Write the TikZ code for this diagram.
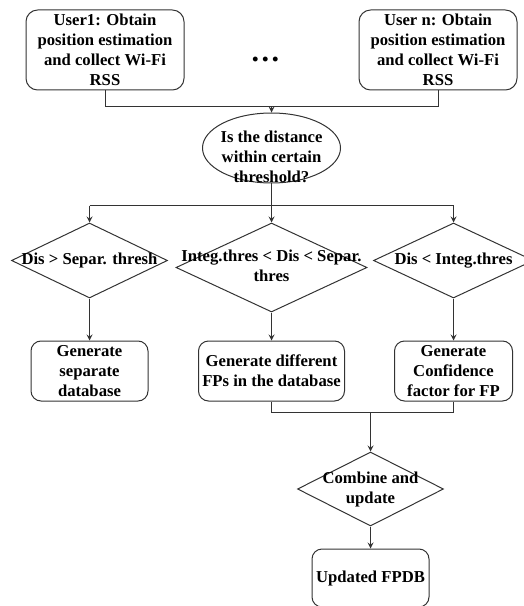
\documentclass[tikz,border=0pt]{standalone}
\usepackage{fontspec}
\setmainfont{Liberation Serif}
\usetikzlibrary{shapes.geometric,positioning,calc}
\newcommand{\zbox}[2][-2.5pt]{\makebox[0pt]{\smash{\raisebox{#1}{\begin{tabular}{@{}c@{}}#2\end{tabular}}}}}

\begin{document}
\begin{tikzpicture}[>=stealth, font=\bfseries, line width=0.6pt,
  box/.style={draw=black!80, rounded corners=6pt, align=center, inner xsep=1pt, inner ysep=0pt, minimum height=36pt},
  user/.style={box, rounded corners=7pt, minimum width=94.8pt, minimum height=48pt},
  test/.style={ellipse, draw=black!80, inner sep=0pt, minimum width=82.8pt, minimum height=42pt},
  choice/.style={diamond, draw=black!80, inner sep=0pt, minimum height=45pt}]
\useasboundingbox (0,0) rectangle (313.8pt,-363.6pt);

\node[user] (u1) at (63pt,-30pt) {User1: Obtain\\position estimation\\and collect Wi-Fi\\RSS};
\node[user, right=104.4pt of u1] (un) {User n: Obtain\\position estimation\\and collect Wi-Fi\\RSS};
\node[inner sep=0pt, right=40pt of u1, yshift=-5.4pt, font=\bfseries\fontsize{18}{18}\selectfont] (dots) {.\kern1.5pt.\kern1.5pt.};

\coordinate[below=9.6pt of u1] (j1);
\coordinate[below=9.6pt of un] (jn);
\coordinate (jm) at ($(j1)!.5!(jn)$);
\node[test, below=3.6pt of jm] (q) {\zbox[-9pt]{Is the distance\\within certain\\threshold?}};
\draw[black!80] (u1) -- (j1) -- (jn) -- (un);
\draw[black!80, ->] (jm) -- (q);

  \coordinate[below=13.2pt of q] (s2);
  \coordinate[left=109.2pt of s2] (s1);
  \coordinate[right=109.2pt of s2] (s3);
  \node[choice, minimum width=93.6pt, below=10.2pt of s1] (d1) {\zbox{Dis > Separ. thresh}};
  \node[choice, minimum width=114.6pt, minimum height=53.4pt, below=10.2pt of s2] (d2) {\zbox{Integ.thres < Dis < Separ.\\thres}};
  \node[choice, minimum width=96pt, below=10.2pt of s3] (d3) {\zbox{Dis < Integ.thres}};
  \draw[black!80] (q) -- (s2);
  \draw[black!80] (s1) -- (s3);
  \draw[black!80, ->] (s1) -- (d1);
  \draw[black!80, ->] (s2) -- (d2);
  \draw[black!80, ->] (s3) -- (d3);

  \node[box, minimum width=70.2pt, below=25.2pt of d1] (b1) {Generate\\separate\\database};
  \node[box, minimum width=87.6pt, below=16.8pt of d2] (b2) {Generate different\\FPs in the database};
  \node[box, minimum width=70.8pt, below=25.2pt of d3] (b3) {Generate\\Confidence\\factor for FP};
  \draw[black!80, ->] (d1) -- (b1);
  \draw[black!80, ->] (d2) -- (b2);
  \draw[black!80, ->] (d3) -- (b3);

    \coordinate[below=6.6pt of b2] (k2);
    \coordinate[below=6.6pt of b3] (k3);
    \coordinate[right=59.4pt of k2] (k);
    \node[choice, minimum width=87.6pt, minimum height=44.4pt, below=23.4pt of k] (d4) {\zbox{Combine and\\update}};
    \node[box, minimum width=70.2pt, minimum height=34.8pt, below=13.2pt of d4] (f) {Updated FPDB};
    \draw[black!80] (b2) -- (k2) -- (k3) -- (b3);
    \draw[black!80, ->] (k) -- (d4);
    \draw[black!80, ->] (d4) -- (f);

\end{tikzpicture}
\end{document}
